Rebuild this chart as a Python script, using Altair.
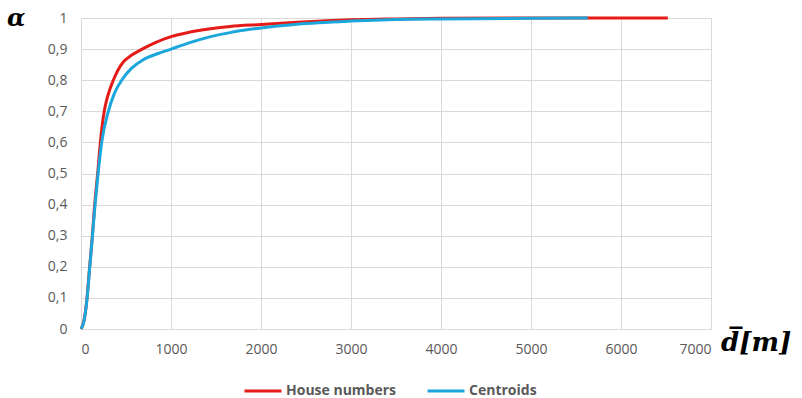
import altair as alt
import pandas as pd

# Cumulative share (alpha) of addresses vs. mean distance d [m]
house_d = [0, 33, 67, 96, 126, 152, 185, 215, 258, 300, 359, 410, 475, 560, 674, 820,
           1000, 1200, 1400, 1656, 2000, 2400, 3000, 3500, 4000, 5000, 6000, 6520]
house_a = [0, 0.027, 0.1, 0.2, 0.3, 0.4, 0.5, 0.6, 0.7, 0.752, 0.8, 0.832, 0.86, 0.88,
           0.899, 0.92, 0.94, 0.954, 0.964, 0.973, 0.979, 0.986, 0.994, 0.997, 0.999, 1.0,
           1.0, 1.0]

centroid_d = [0, 33, 67, 96, 126, 155, 190, 230, 304, 370, 452, 560, 692, 850, 1000,
              1200, 1400, 1656, 2000, 2400, 3000, 3500, 4000, 5000, 5630]
centroid_a = [0, 0.025, 0.097, 0.195, 0.295, 0.395, 0.5, 0.6, 0.7, 0.757, 0.8, 0.838,
              0.866, 0.885, 0.9, 0.92, 0.937, 0.953, 0.968, 0.98, 0.99, 0.995, 0.997,
              0.999, 1.0]

series_names = ["House numbers", "Centroids"]
series_colors = ["#E41B17", "#1CA7DC"]

df = pd.concat([
    pd.DataFrame({"d": house_d, "alpha": house_a, "series": series_names[0], "o": range(len(house_d))}),
    pd.DataFrame({"d": centroid_d, "alpha": centroid_a, "series": series_names[1], "o": range(len(centroid_d))}),
])

FONT = "Open Sans"

lines = alt.Chart(df).mark_line(strokeWidth=3, interpolate="monotone").encode(
    x=alt.X("d:Q", scale=alt.Scale(domain=[0, 7000], nice=False),
            axis=alt.Axis(values=list(range(0, 7001, 1000)), title=None, labelFontSize=14,
                          labelColor="#595959", labelFont=FONT, grid=True, gridColor="#D9D9D9",
                          domainColor="#D9D9D9", ticks=False, labelPadding=13, format="d")),
    y=alt.Y("alpha:Q", scale=alt.Scale(domain=[0, 1], nice=False),
            axis=alt.Axis(values=[i / 10 for i in range(11)], title=None, labelFontSize=14,
                          labelColor="#595959", labelFont=FONT, grid=True, gridColor="#D9D9D9",
                          domain=False, ticks=False, labelPadding=14,
                          labelExpr="replace(format(datum.value, '~g'), '.', ',')")),
    color=alt.Color("series:N", scale=alt.Scale(domain=series_names, range=series_colors),
                    sort=series_names,
                    legend=alt.Legend(title=None, orient="none", direction="horizontal",
                                      legendX=162, legendY=353, symbolType="stroke",
                                      symbolSize=1369, symbolStrokeWidth=3, labelFontSize=14,
                                      labelFontWeight="bold", labelColor="#595959", labelFont=FONT,
                                      columnPadding=24, labelOffset=3)),
    order="o:Q",
    detail="series:N",
)

alpha_label = alt.Chart(pd.DataFrame({"t": ["α"]})).mark_text(
    font="DejaVu Serif", fontSize=24, fontWeight="bold", fontStyle="italic",
    align="left", baseline="middle", color="#000000"
).encode(text="t:N", x=alt.value(-74), y=alt.value(1))

d_label = alt.Chart(pd.DataFrame({"t": ["d\u0305[m]"]})).mark_text(
    font="DejaVu Serif", fontSize=26, fontWeight="bold", fontStyle="italic",
    align="left", baseline="middle", color="#000000"
).encode(text="t:N", x=alt.value(640), y=alt.value(325))

chart = alt.layer(lines, alpha_label, d_label).properties(
    width=630, height=311,
    padding={"left": 81, "top": 18, "right": 91, "bottom": 69},
    autosize=alt.AutoSizeParams(type="none"),
    background="#FFFFFF",
).configure_view(stroke=None)

chart.save("out.html", embed_options={"renderer": "svg", "actions": False})
